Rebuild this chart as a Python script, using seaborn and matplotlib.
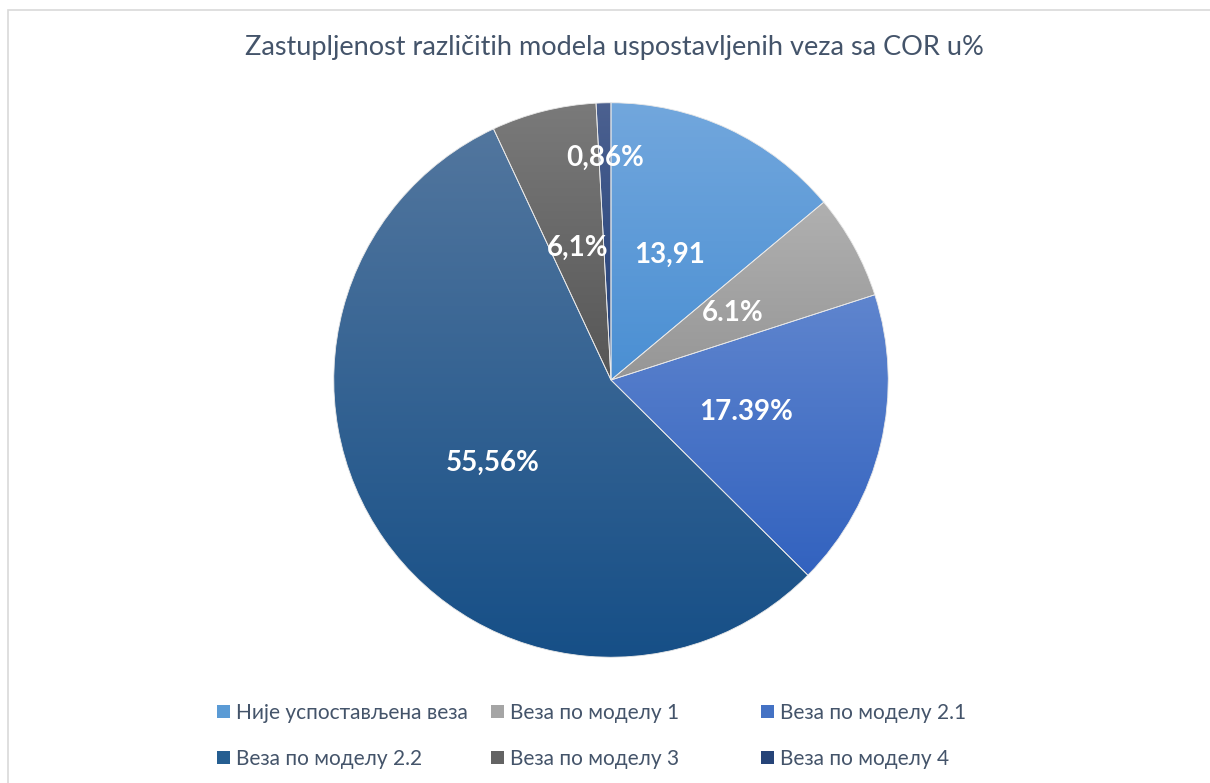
import numpy as np
import matplotlib
matplotlib.use('Agg')
import matplotlib.pyplot as plt
import matplotlib.colors as mcolors
from matplotlib.patches import Patch, Rectangle
import seaborn as sns

# Chart data
categories = ['Није успостављена веза', 'Веза по моделу 1', 'Веза по моделу 2.1',
              'Веза по моделу 2.2', 'Веза по моделу 3', 'Веза по моделу 4']
values = [13.91, 6.1, 17.39, 55.56, 6.1, 0.86]
value_labels = ['13,91', '6.1%', '17.39%', '55,56%', '6,1%', '0,86%']
title = 'Zastupljenost različitih modela uspostavljenih veza sa COR u%'

# Gradient colours per slice (top -> bottom), as in the Excel fill
top_colors = ['#72a7dd', '#b0b0b0', '#5f85ce', '#52769e', '#7a7a7a', '#4c6190']
bottom_colors = ['#4a8fd3', '#969696', '#3262bf', '#164f87', '#565656', '#1f3e78']
legend_colors = ['#5b9bd5', '#a5a5a5', '#4472c4', '#255e91', '#636363', '#264478']
label_radius = [0.5, 0.5, 0.5, 0.52, 0.49, 0.8]

sns.set_theme(style='white')
plt.rcParams['font.family'] = ['Lato', 'Noto Sans', 'DejaVu Sans']
text_color = '#44546a'

fig = plt.figure(figsize=(12.1, 7.83), dpi=100)
fig.patch.set_facecolor('white')

# chart area border
fig.patches.append(Rectangle((8 / 1210, -0.05), 1.2, 1 - 10 / 783 + 0.05,
                             transform=fig.transFigure, fill=False,
                             edgecolor='#d9d9d9', linewidth=1.2))

ax = fig.add_axes([(611 - 280) / 1210, 1 - 660 / 783, 560 / 1210, 560 / 783])
wedges, _ = ax.pie(values, startangle=90, counterclock=False,
                   colors=legend_colors,
                   wedgeprops=dict(edgecolor='#e8e8e8', linewidth=0.6))
ax.set_aspect('equal')
ax.axis('off')

# gradient fill clipped to each wedge
grad = np.linspace(0, 1, 256)[:, None]
for w, c0, c1 in zip(wedges, top_colors, bottom_colors):
    cmap = mcolors.LinearSegmentedColormap.from_list('g', [c0, c1])
    verts = w.get_patch_transform().transform(w.get_path().vertices)
    x0, x1 = verts[:, 0].min(), verts[:, 0].max()
    y0, y1 = verts[:, 1].min(), verts[:, 1].max()
    im = ax.imshow(grad, cmap=cmap, aspect='auto', extent=(x0, x1, y0, y1),
                   origin='upper', zorder=w.get_zorder() + 0.1)
    im.set_clip_path(w)
    w.set_zorder(w.get_zorder() + 0.2)
    w.set_facecolor('none')

ax.set_xlim(-1.01, 1.01)
ax.set_ylim(-1.01, 1.01)

for w, lab, r in zip(wedges, value_labels, label_radius):
    ang = np.deg2rad((w.theta1 + w.theta2) / 2)
    ax.text(r * np.cos(ang), r * np.sin(ang), lab, ha='center', va='center',
            color='white', fontsize=20, fontweight='bold', zorder=5)

fig.text(614 / 1210, 1 - 47 / 783, title, ha='center', va='center',
         fontsize=19.5, color=text_color)

# legend: three columns placed like the Excel legend
col_x = [217, 491, 761]
for i, x in enumerate(col_x):
    idx = [i, i + 3]
    handles = [Patch(facecolor=legend_colors[j], edgecolor='none') for j in idx]
    fig.legend(handles, [categories[j] for j in idx], loc='upper left',
               bbox_to_anchor=(x / 1210, 1 - 703 / 783), frameon=False,
               fontsize=15, labelcolor=text_color, handlelength=0.6,
               handleheight=0.6, handletextpad=0.3, labelspacing=1.25,
               borderaxespad=0, borderpad=0)

plt.savefig('out.png', dpi=100)
